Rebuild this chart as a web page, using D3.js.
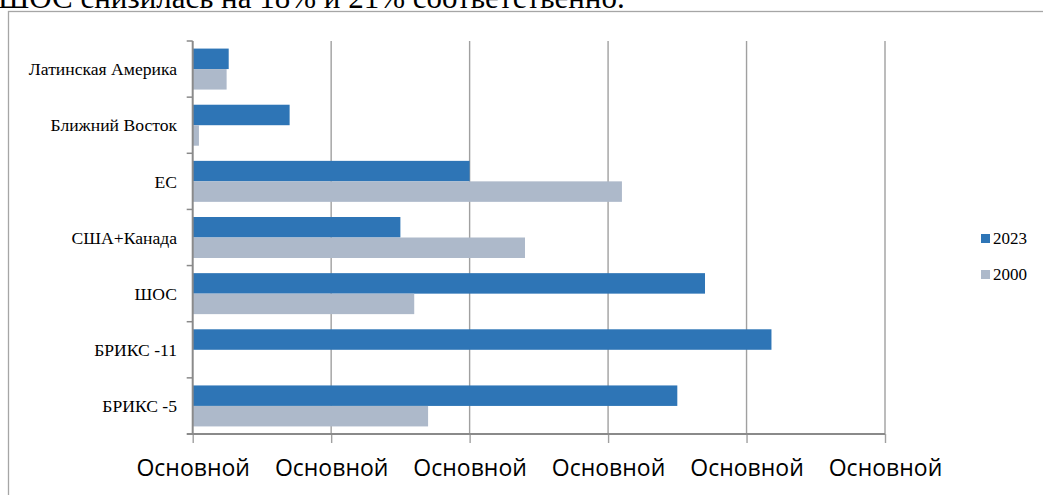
<!DOCTYPE html>
<html>
<head>
<meta charset="utf-8">
<script src="https://cdn.jsdelivr.net/npm/d3@7"></script>
<style>
  html, body { margin: 0; padding: 0; background: #fff; overflow: hidden; }
  svg { display: block; }
</style>
</head>
<body>
<svg id="chart" width="1043" height="495"></svg>
<script>
// Categories listed bottom to top as they appear on the vertical axis
const categories = ["БРИКС -5", "БРИКС -11", "ШОС", "США+Канада", "ЕС", "Ближний Восток", "Латинская Америка"];
const seriesNames = ["2023", "2000"];
const values2023 = [35.0, 41.8, 37.0, 15.0, 20.0, 7.0, 2.6];
const values2000 = [17.0, 0, 16.0, 24.0, 31.0, 0.45, 2.45];
const xTicks = [0, 10, 20, 30, 40, 50];
const xTickLabel = "Основной";
const colors = { "2023": "#2E75B6", "2000": "#ADB9CA" };

const svg = d3.select("#chart");

// Last line of the surrounding paragraph, partly above the page edge
svg.append("text")
  .attr("x", -2).attr("y", 8)
  .attr("font-family", "'Liberation Serif', 'Times New Roman', serif")
  .attr("font-size", 31)
  .attr("fill", "#000")
  .text("ШОС снизилась на 18% и 21% соответственно.");

// Chart frame (continues past the window on the right and bottom)
svg.append("rect")
  .attr("x", 8.5).attr("y", 11.5)
  .attr("width", 1100).attr("height", 600)
  .attr("fill", "none")
  .attr("stroke", "#a6a6a6")
  .attr("stroke-width", 1.3);

const plot = { left: 192.7, right: 885, top: 41, bottom: 434 };

const x = d3.scaleLinear().domain([0, 50]).range([plot.left, plot.right]);
const y0 = d3.scaleBand()
  .domain(categories)
  .range([plot.bottom, plot.top])
  .paddingInner(0.27)
  .paddingOuter(0.135);
const y1 = d3.scaleBand().domain(seriesNames).range([0, y0.bandwidth()]);

const rows = categories.map((c, i) => ({ cat: c, "2023": values2023[i], "2000": values2000[i] }));

// Vertical gridlines
svg.append("g")
  .selectAll("line")
  .data(xTicks.slice(1))
  .join("line")
  .attr("x1", d => x(d)).attr("x2", d => x(d))
  .attr("y1", plot.top).attr("y2", plot.bottom)
  .attr("stroke", "#a0a0a0")
  .attr("stroke-width", 1.4);

// Bars
const groups = svg.append("g")
  .selectAll("g")
  .data(rows)
  .join("g")
  .attr("transform", d => `translate(0,${y0(d.cat)})`);

groups.selectAll("rect")
  .data(d => seriesNames.map(s => ({ s, v: d[s] })))
  .join("rect")
  .attr("x", x(0))
  .attr("y", d => y1(d.s))
  .attr("width", d => x(d.v) - x(0))
  .attr("height", y1.bandwidth())
  .attr("fill", d => colors[d.s]);

// Horizontal axis with tick labels
const xAxis = d3.axisBottom(x)
  .tickValues(xTicks)
  .tickSize(9)
  .tickSizeOuter(0)
  .tickFormat(() => xTickLabel);

const gx = svg.append("g")
  .attr("transform", `translate(0,${plot.bottom})`)
  .call(xAxis);
gx.select(".domain").remove();
gx.append("line")
  .attr("x1", plot.left - 6).attr("x2", plot.right)
  .attr("stroke", "#8a8a8a").attr("stroke-width", 2);
gx.selectAll(".tick line").attr("stroke", "#a0a0a0").attr("stroke-width", 1.4);
gx.selectAll(".tick text")
  .attr("y", 42)
  .attr("dy", 0)
  .attr("fill", "#000")
  .attr("font-family", "'Open Sans', 'Noto Sans', sans-serif")
  .attr("font-size", 23);

// Vertical axis: ticks on category boundaries, labels at band centres
const gy = svg.append("g");
gy.append("line")
  .attr("x1", plot.left).attr("x2", plot.left)
  .attr("y1", plot.top).attr("y2", plot.bottom)
  .attr("stroke", "#8a8a8a").attr("stroke-width", 2);
const step = y0.step();
gy.selectAll("line.tk")
  .data(d3.range(categories.length))
  .join("line")
  .attr("class", "tk")
  .attr("x1", plot.left - 6).attr("x2", plot.left)
  .attr("y1", i => plot.top + i * step).attr("y2", i => plot.top + i * step)
  .attr("stroke", "#8a8a8a").attr("stroke-width", 1.5);
gy.selectAll("text")
  .data(categories)
  .join("text")
  .attr("x", 177)
  .attr("y", d => y0(d) + y0.bandwidth() / 2)
  .attr("dy", "0.35em")
  .attr("text-anchor", "end")
  .attr("font-family", "'Liberation Serif', 'Times New Roman', serif")
  .attr("font-size", 17.6)
  .attr("fill", "#000")
  .text(d => d);

// Legend
const legend = svg.append("g")
  .selectAll("g")
  .data(seriesNames)
  .join("g")
  .attr("transform", (d, i) => `translate(981,${234 + i * 36})`);
legend.append("rect")
  .attr("width", 9).attr("height", 9)
  .attr("fill", d => colors[d]);
legend.append("text")
  .attr("x", 12).attr("y", 10)
  .attr("font-family", "'Liberation Serif', 'Times New Roman', serif")
  .attr("font-size", 17)
  .attr("fill", "#000")
  .text(d => d);
</script>
</body>
</html>
